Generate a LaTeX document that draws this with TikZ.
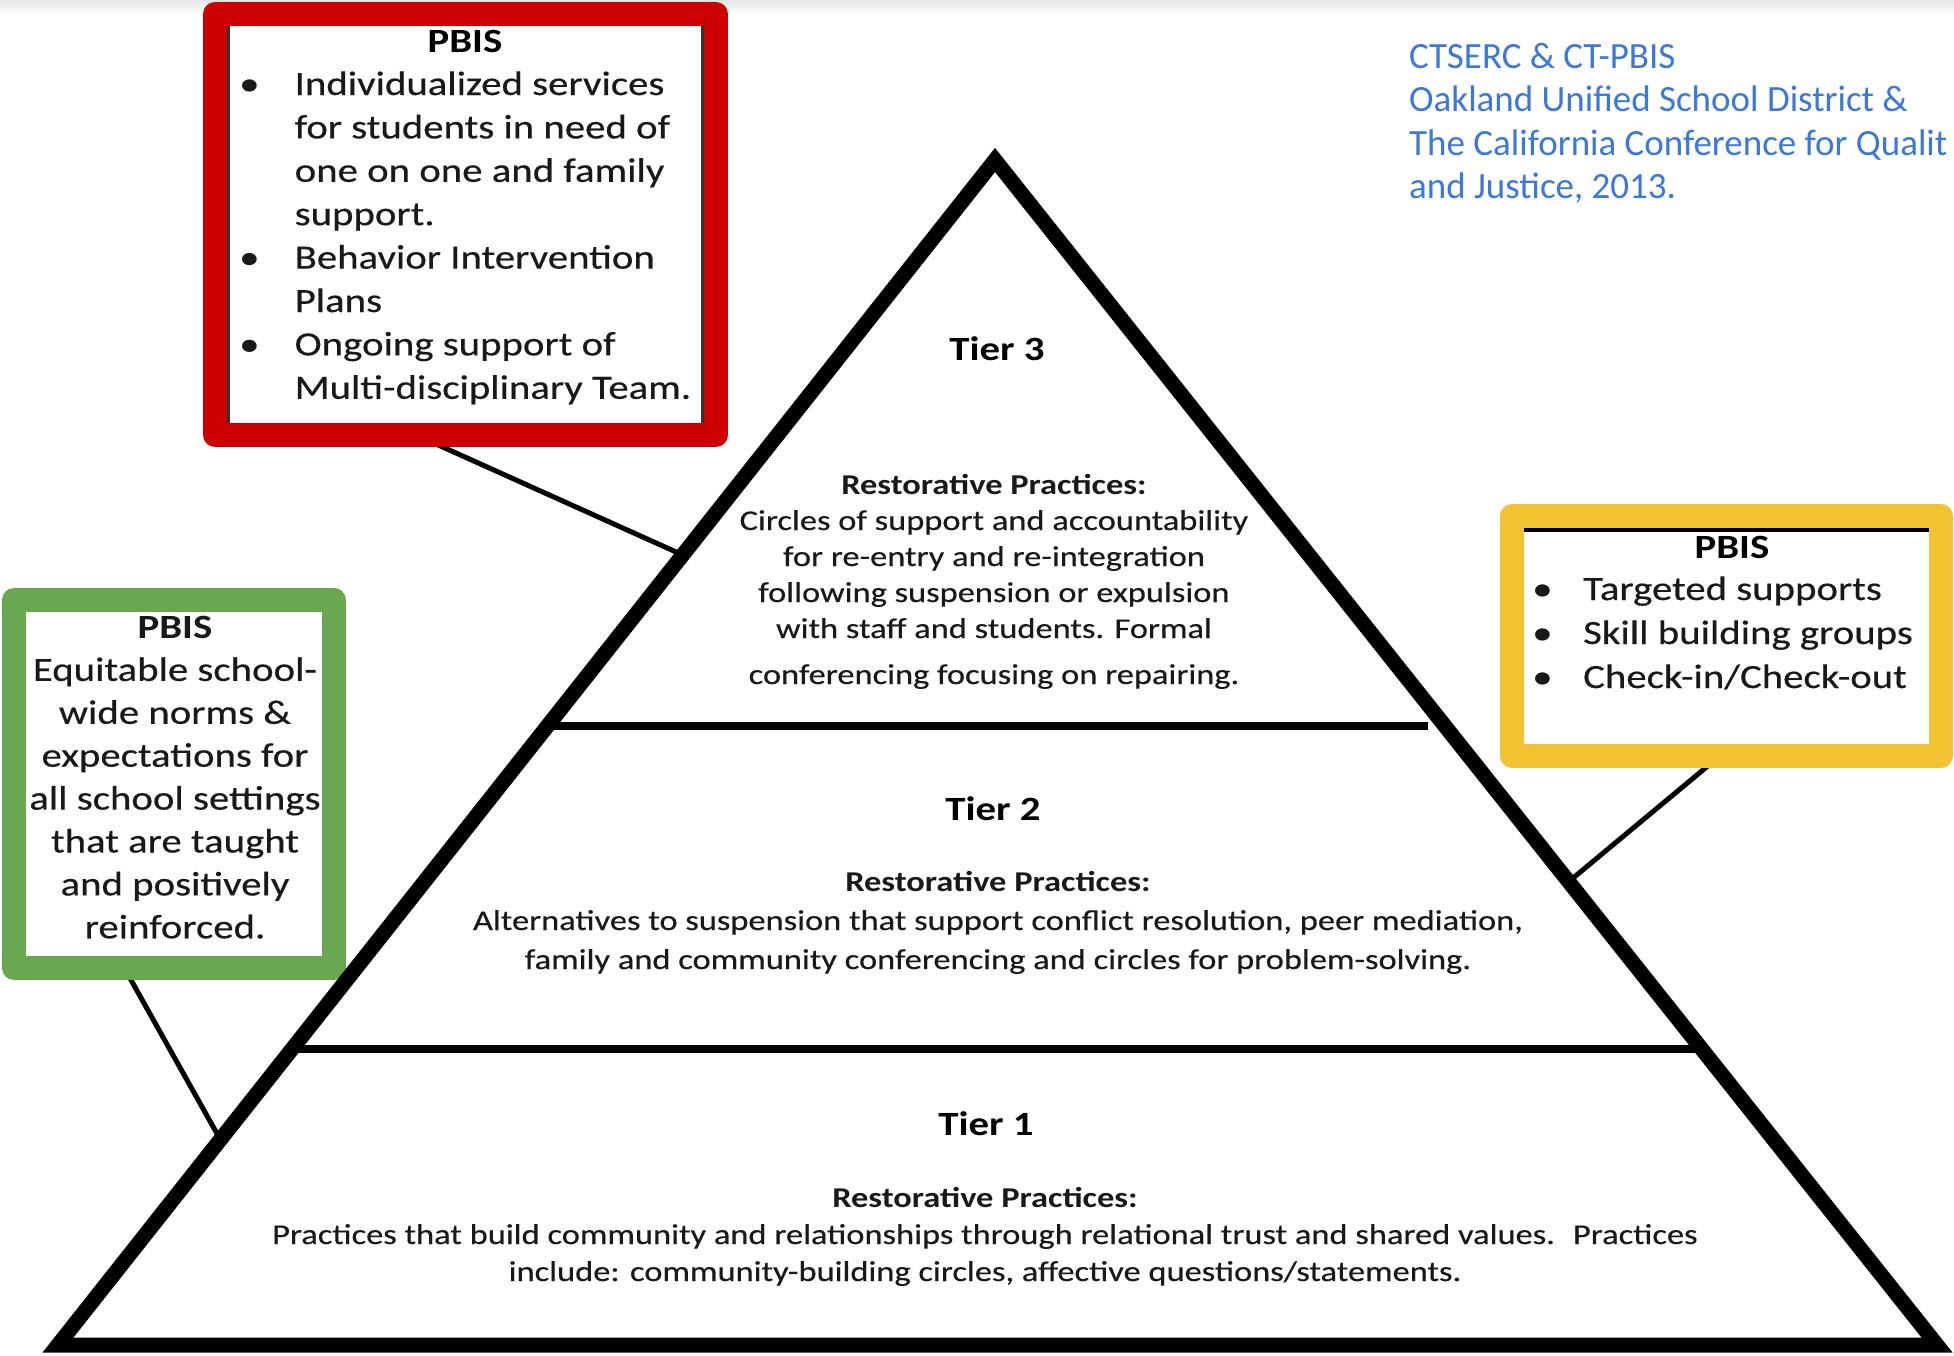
\documentclass[tikz,border=0pt]{standalone}
\usepackage{fontspec}
\setmainfont{Carlito}
\newfontfamily\pyrfont[FakeStretch=1.2, UprightFeatures={FakeBold=0.4}]{Carlito}
\usetikzlibrary{calc}

\definecolor{boxred}{HTML}{CC0000}
\definecolor{boxgreen}{HTML}{6AA84F}
\definecolor{boxyellow}{HTML}{F1C232}
\definecolor{credit}{HTML}{3C78D8}

\pgfdeclarelayer{bg}
\pgfdeclarelayer{back}
\pgfsetlayers{bg,back,main}

\tikzset{
  pbisframe/.style={draw=#1, line width=24pt, line join=round, fill=white,
    inner sep=0pt, outer sep=0pt},
  pyramid/.style={line width=15pt, line join=miter},
  divider/.style={line width=8pt},
  connector/.style={line width=5pt},
  rimline/.style={line width=2.5pt, black!80},
  boxtitle/.style={inner sep=0pt, anchor=base, font=\pyrfont\bfseries\fontsize{34}{43.4}\selectfont},
  boxtext/.style={inner sep=0pt, text=black!90, font=\pyrfont\fontsize{34}{#1}\selectfont},
  tiertitle/.style={inner sep=0pt, anchor=base, font=\pyrfont\bfseries\fontsize{34}{40}\selectfont},
  tierbody/.style={inner sep=0pt, anchor=base, text=black!90, font=\pyrfont\fontsize{28.7}{#1}\selectfont},
}

\begin{document}
\begin{tikzpicture}[x=1pt,y=-1pt]
\useasboundingbox (0,0) rectangle (1954,1355);
\begin{pgfonlayer}{bg}
  \fill[white] (0,0) rectangle (1954,1355);
  \shade[top color=black!10, bottom color=white] (0,0) rectangle (1954,14);
\end{pgfonlayer}

% pyramid corners
\coordinate (apex) at (995,160);
\coordinate (bl) at (58,1345);
\coordinate (br) at (1937,1345);

% PBIS frames
\node[pbisframe=boxred, minimum width=501pt, minimum height=421pt] (redbox) at (465.5,224.5) {};
\node[pbisframe=boxgreen, minimum width=320pt, minimum height=368pt] (greenbox) at (174,784) {};
\node[pbisframe=boxyellow, minimum width=429pt, minimum height=240pt] (yelbox) at (1726.5,636) {};

% leader lines from the frames to the pyramid
\coordinate (redhit) at ($(apex)!0.3333!(bl)$);
\coordinate (greenhit) at ($(apex)!0.8267!(bl)$);
\coordinate (yelhit) at ($(apex)!0.609!(br)$);
\begin{pgfonlayer}{back}
  \draw[connector] ([xshift=-49.5pt]redbox.south) -- (redhit);
  \draw[connector] ([xshift=-49.7pt]greenbox.south) -- (greenhit);
  \draw[connector] ([xshift=6.5pt,yshift=11pt]yelbox.south) -- (yelhit);
\end{pgfonlayer}

% pyramid and tier dividers
\draw[pyramid] (apex) -- (bl) -- (br) -- cycle;
\coordinate (d1l) at ($(apex)!0.4776!(bl)$);
\coordinate (d1r) at ($(apex)!0.4776!(br)$);
\coordinate (d2l) at ($(apex)!0.75!(bl)$);
\coordinate (d2r) at ($(apex)!0.75!(br)$);
\draw[divider] (d1l) -- ([xshift=-17pt]d1r);
\draw[divider] (d2l) -- (d2r);

% thin rims inside the frames
\draw[rimline] ([xshift=13.5pt,yshift=-12pt]redbox.north west) -- ([xshift=13.5pt,yshift=12pt]redbox.south west);
\draw[rimline] ([xshift=-13.5pt,yshift=-12pt]redbox.north east) -- ([xshift=-13.5pt,yshift=12pt]redbox.south east);
\draw[line width=3.5pt] ([xshift=12pt,yshift=-14pt]yelbox.north west) -- ([xshift=-12pt,yshift=-14pt]yelbox.north east);

% Tier 3 text
\node[tiertitle] (t3title) at (997,360) {Tier 3};
\node[tierbody=36] (t3body) at (994,494) {\begin{tabular}[t]{@{}c@{}}
  \textbf{Restorative Practices:}\\
  Circles of support and accountability\\
  for re-entry and re-integration\\
  following suspension or expulsion\\
  with staff and students. Formal\\[10pt]
  conferencing focusing on repairing.
\end{tabular}};

% Tier 2 text
\node[tiertitle] (t2title) at (993,820) {Tier 2};
\node[tierbody=39] (t2body) at (998,891) {\begin{tabular}[t]{@{}c@{}}
  \textbf{Restorative Practices:}\\
  Alternatives to suspension that support conflict resolution, peer mediation,\\
  family and community conferencing and circles for problem-solving.
\end{tabular}};

% Tier 1 text
\node[tiertitle] (t1title) at (986,1135) {Tier 1};
\node[tierbody=37] (t1body) at (985,1207) {\begin{tabular}[t]{@{}c@{}}
  \textbf{Restorative Practices:}\\
  Practices that build community and relationships through relational trust and shared values.~ Practices\\
  include: community-building circles, affective questions/statements.
\end{tabular}};

% red frame text
\node[boxtitle] (redtitle) at (465,52) {PBIS};
\node[boxtext=43.4, anchor=base west] (redlist) at (239,95) {\begin{tabular}[t]{@{}l@{}l@{}}
  \makebox[55.5pt][l]{\textbullet} & Individualized services\\
  & for students in need of\\
  & one on one and family\\
  & support.\\
  \makebox[55.5pt][l]{\textbullet} & Behavior Intervention\\
  & Plans\\
  \makebox[55.5pt][l]{\textbullet} & Ongoing support of\\
  & Multi-disciplinary Team.
\end{tabular}};

% green frame text
\node[boxtext=42.9, anchor=base] (greentext) at (175,638) {\begin{tabular}[t]{@{}c@{}}
  \textbf{PBIS}\\
  Equitable school-\\
  wide norms \&\\
  expectations for\\
  all school settings\\
  that are taught\\
  and positively\\
  reinforced.
\end{tabular}};

% yellow frame text
\node[boxtitle] (yeltitle) at (1732,558) {PBIS};
\node[boxtext=44, anchor=base west] (yellist) at (1532,600) {\begin{tabular}[t]{@{}l@{}l@{}}
  \makebox[51pt][l]{\textbullet} & Targeted supports\\
  \makebox[51pt][l]{\textbullet} & Skill building groups\\
  \makebox[51pt][l]{\textbullet} & Check-in/Check-out
\end{tabular}};

% source credit at the top right
\node[inner sep=0pt, anchor=base west, text=credit, font=\fontsize{37}{43.6}\selectfont] (credit) at (1409,68) {\begin{tabular}[t]{@{}l@{}}
  CTSERC \& CT-PBIS\\
  Oakland Unified School District \&\\
  The California Conference for Qualit\\
  and Justice, 2013.
\end{tabular}};
\end{tikzpicture}
\end{document}
